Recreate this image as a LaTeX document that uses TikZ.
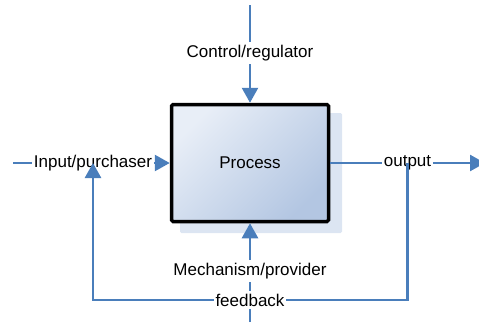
\documentclass[tikz,border=0pt]{standalone}
\usepackage{fontspec}
\setmainfont{Liberation Sans}
\usetikzlibrary{arrows.meta}
\definecolor{lnblue}{HTML}{4A7EBB}
\definecolor{shadowblue}{HTML}{DCE5F2}
\definecolor{boxlight}{HTML}{E8EEF7}
\definecolor{boxdark}{HTML}{B3C6E2}
\begin{document}
\begin{tikzpicture}[x=1pt,y=-1pt,
  conn/.style={draw=lnblue, line width=2.6pt},
  arr/.style={conn, -{Triangle[length=15pt,width=16pt]}},
  lbl/.style={fill=white, inner xsep=1.5pt, inner ysep=3pt, font=\fontsize{17}{20}\selectfont},
  procbox/.style={draw=black, line width=3.5pt, rounded corners=1.5pt,
    minimum width=157pt, minimum height=117pt,
    top color=boxlight, bottom color=boxdark, shading angle=45,
    font=\fontsize{17}{20}\selectfont}]
\useasboundingbox (0,0) rectangle (479,322);
% shadow
\fill[shadowblue, rounded corners=1.5pt] (180,113) rectangle (342,233);
% nodes
\node[procbox] (proc) at (250,163) {Process};
\node[lbl] (ctl) at (250,53) {Control/regulator};
\node[lbl] (inp) at (93,163) {Input/purchaser};
\node[lbl] (out) at (407.5,163) {output};
\node[lbl] (mech) at (250,271) {Mechanism/provider};
\node[lbl] (fb) at (250,300) {feedback};
\coordinate (ctop) at (250,5);
\coordinate (inL) at (13,163);
\coordinate (outR) at (485,163);
\coordinate (mbot) at (250,322);
% connectors
\draw[conn] (ctop) -- (ctl.north);
\draw[arr] (ctl.south) -- (proc.north);
\draw[conn] (inL) -- (inp.west);
\draw[arr] (inp.east) -- (proc.west);
\draw[conn] (proc.east) -- (out.west);
\draw[arr] (out.east) -- (outR);
\draw[conn] (mbot) -- (fb.south);
\draw[conn] (fb.north) -- (mech.south);
\draw[arr] (mech.north) -- (proc.south);
\draw[conn] (out.center) |- (fb.east);
\draw[arr] (fb.west) -| (inp.center);
\end{tikzpicture}
\end{document}
